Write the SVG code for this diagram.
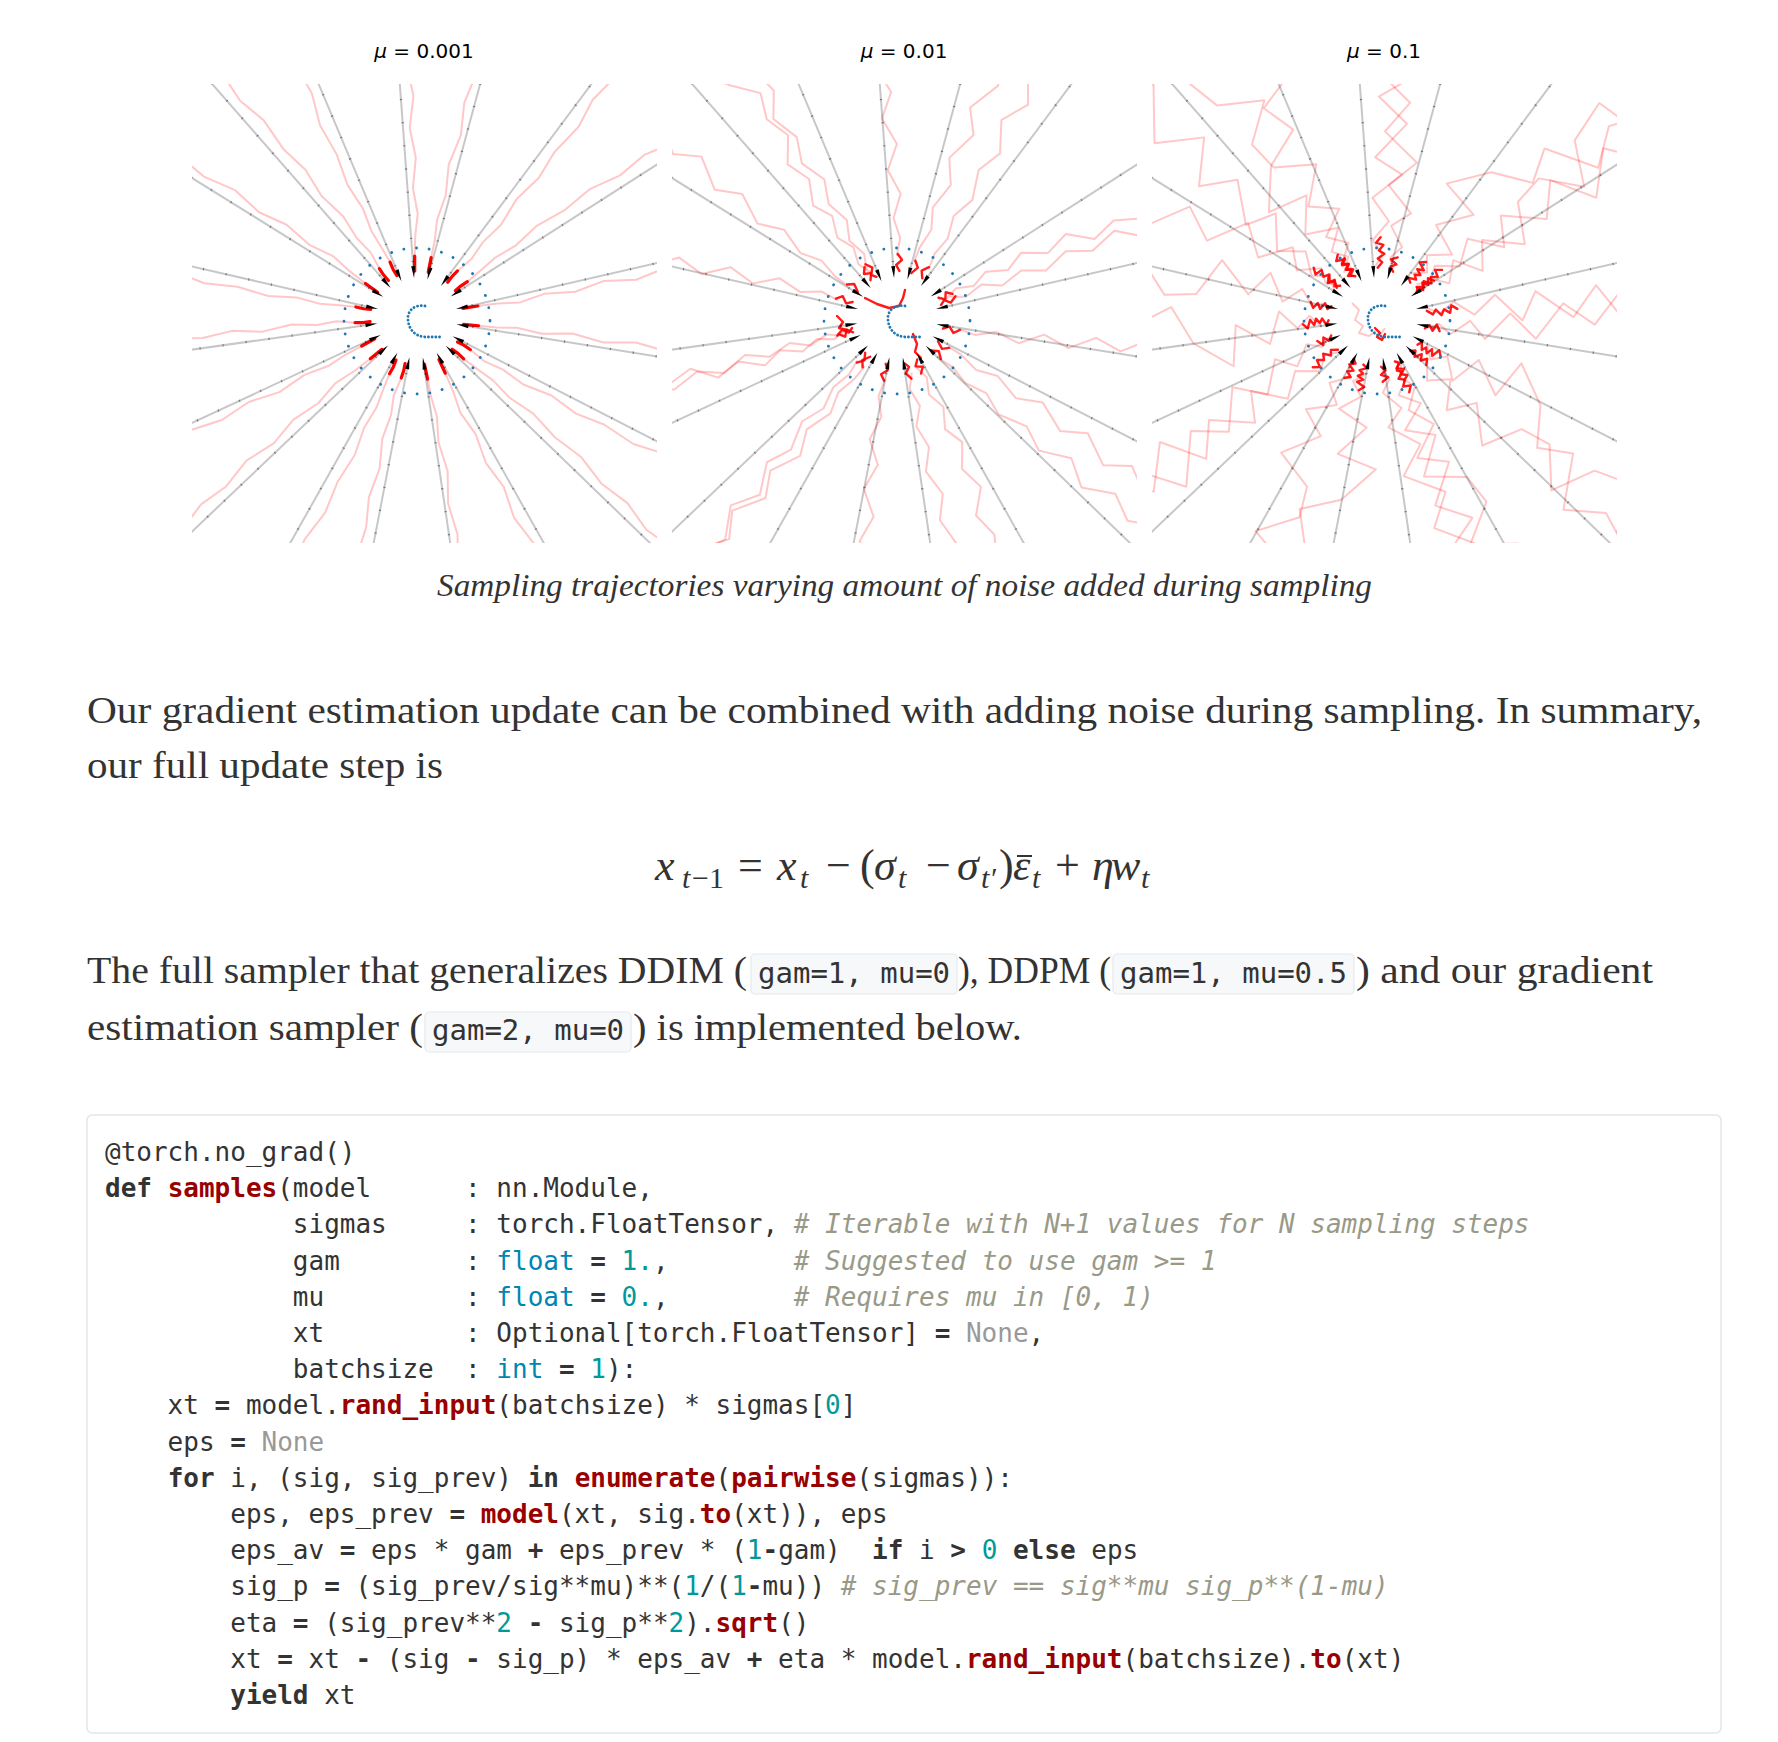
<svg xmlns="http://www.w3.org/2000/svg" width="1778" height="1742" viewBox="0 0 1778 1742">
<style>
.bl{stroke:#000;stroke-opacity:.22;stroke-width:2;fill:none}
.bdt{stroke:#000;stroke-opacity:.4;stroke-width:2.4;stroke-dasharray:1.2 22;fill:none}
.bh{fill:#000}
.rt{stroke:#f00;stroke-opacity:.22;stroke-width:2;fill:none;stroke-linejoin:round}
.rh{stroke:#f00;stroke-width:3.2;fill:none;stroke-linecap:round;stroke-linejoin:round}
.rc{stroke:#f00;stroke-width:2.4;fill:none;stroke-linecap:round;stroke-linejoin:round;stroke-opacity:.9}
.bp{fill:none;stroke:#1f77b4;stroke-width:2.8;stroke-linecap:round}
.ttl{font-family:"DejaVu Sans",sans-serif;font-size:20px;fill:#000}
.body{font-family:"Liberation Serif",serif;font-size:38px;fill:#333}
.cap{font-family:"Liberation Serif",serif;font-style:italic;font-size:31px;fill:#333}
.m{font-family:"Liberation Serif",serif;font-size:44px;fill:#333}
.mi{font-family:"Liberation Serif",serif;font-style:italic;font-size:44px;fill:#333}
.ms{font-family:"Liberation Serif",serif;font-style:italic;font-size:30px;fill:#333}
.msr{font-family:"Liberation Serif",serif;font-size:30px;fill:#333}
.ic{font-family:"DejaVu Sans Mono",monospace;font-size:29px;fill:#333}
.icb{fill:#f6f8fa;stroke:#e3e9ee;stroke-width:1.2}
.code{font-family:"DejaVu Sans Mono",monospace;font-size:26px;fill:#333;white-space:pre}
.k{font-weight:bold}
.f{font-weight:bold;fill:#990000}
.t{fill:#0086b3}
.n{fill:#009999}
.nn{fill:#999}
.c{fill:#998;font-style:italic}
</style>
<defs>
<clipPath id="c1"><rect x="192" y="84" width="465" height="459"/></clipPath>
<clipPath id="c2"><rect x="672" y="84" width="465" height="459"/></clipPath>
<clipPath id="c3"><rect x="1152" y="84" width="465" height="459"/></clipPath>
<g id="ray"><line class="bl" x1="46" y1="0" x2="380" y2="0"/><line class="bdt" x1="56" y1="0" x2="380" y2="0"/><path class="bh" d="M40,0 L52,-2 L52,2 Z"/></g>
<g id="rays">
<use href="#ray" transform="rotate(-131.2)"/><use href="#ray" transform="rotate(-112.8)"/><use href="#ray" transform="rotate(-94.2)"/><use href="#ray" transform="rotate(-74.9)"/><use href="#ray" transform="rotate(-53.3)"/><use href="#ray" transform="rotate(-32.6)"/><use href="#ray" transform="rotate(-12.9)"/><use href="#ray" transform="rotate(9.1)"/><use href="#ray" transform="rotate(27.2)"/><use href="#ray" transform="rotate(44)"/><use href="#ray" transform="rotate(60.6)"/><use href="#ray" transform="rotate(81.6)"/><use href="#ray" transform="rotate(100.9)"/><use href="#ray" transform="rotate(119.4)"/><use href="#ray" transform="rotate(136.5)"/><use href="#ray" transform="rotate(155)"/><use href="#ray" transform="rotate(172)"/><use href="#ray" transform="rotate(-167.1)"/><use href="#ray" transform="rotate(-148.1)"/>
</g>
<g id="ring"><circle class="bp" cx="0" cy="3" r="73" stroke-dasharray="0.1 12.6"/><path class="bp" stroke-dasharray="0.1 3.6" d="M8,-12 C-4,-14 -10,-6 -9,2 C-8,12 -2,18 8,19 L23,19"/></g>
<g id="rA"><path class="rt" d="M380,10 L345,8 L310,13 L280,9 L250,14 L215,10 L185,13 L155,8 L125,11 L100,7 L80,8 L62,4"/><path class="rh" d="M62,4 L54,3 L47,3"/></g>
<g id="rB"><path class="rt" d="M380,-9 L345,-12 L312,-7 L280,-13 L248,-9 L215,-14 L182,-10 L150,-12 L122,-7 L98,-8 L78,-5 L62,-3"/><path class="rh" d="M62,-3 L54,-3 L47,-2"/></g>
<g id="rC"><path class="rt" d="M380,4 L348,10 L318,5 L285,11 L255,7 L222,12 L190,6 L160,10 L130,5 L104,8 L82,4 L62,2"/><path class="rh" d="M62,2 L47,1"/></g>
<g id="rD"><path class="rt" d="M380,-3 L350,-9 L318,-4 L285,-11 L252,-6 L220,-10 L188,-5 L156,-9 L126,-4 L100,-6 L80,-3 L62,-2"/><path class="rh" d="M62,-2 L47,-1"/></g>
<g id="mA"><path class="rt" d="M390,30 L360,12 L335,26 L310,8 L285,22 L260,40 L236,28 L210,34 L188,15 L163,22 L140,8 L120,16 L100,6 L82,12 L66,5 L52,9"/><path class="rc" d="M60,8 L55,3 L51,9 L46,4"/></g>
<g id="mB"><path class="rt" d="M390,-28 L365,-40 L338,-30 L312,-45 L285,-30 L258,-20 L232,-32 L206,-18 L180,-24 L156,-10 L132,-16 L110,-6 L90,-12 L72,-4 L56,-8"/><path class="rc" d="M62,-7 L56,-2 L50,-6 L46,-2"/></g>
<g id="mC"><path class="rt" d="M390,12 L362,-6 L336,8 L308,-10 L280,4 L254,-14 L226,2 L200,-8 L174,6 L148,-4 L124,8 L100,0 L80,6 L62,2"/><path class="rc" d="M64,3 L58,7 L53,1 L47,4"/></g>
<g id="mD"><path class="rt" d="M390,45 L362,60 L332,40 L305,55 L276,30 L250,42 L222,20 L196,30 L168,12 L142,20 L116,8 L94,12 L74,5 L58,3"/><path class="rc" d="M60,4 L54,8 L47,3"/></g>
<g id="mE"><path class="rt" d="M390,-50 L362,-30 L334,-45 L306,-25 L278,-35 L250,-15 L222,-28 L194,-10 L168,-18 L140,-6 L116,-12 L94,-4 L74,-6 L58,-2"/><path class="rc" d="M60,-3 L53,-7 L47,-2"/></g>
<g id="wA"><path class="rt" d="M420,40 L380,90 L340,60 L330,110 L290,80 L250,95 L235,40 L200,50 L185,10 L150,-20 L140,20 L110,-5 L95,25 L80,5 L66,15 L56,2"/><path class="rc" d="M74,8 L70,3 L66,11 L63,5 L60,11 L57,6 L54,10 L51,3 L48,7"/></g>
<g id="wB"><path class="rt" d="M420,-60 L390,-20 L350,-70 L320,-30 L300,-75 L260,-55 L245,-10 L210,-40 L180,-30 L165,10 L130,-15 L115,12 L95,-12 L80,6 L65,-8 L56,-2"/><path class="rc" d="M68,-4 L64,-9 L61,-3 L57,-8 L54,-1 L50,-6 L47,-2"/></g>
<g id="wC"><path class="rt" d="M420,100 L370,120 L350,70 L310,90 L280,40 L240,70 L220,25 L190,50 L160,15 L140,40 L120,8 L95,22 L78,4 L62,12 L52,4"/><path class="rc" d="M80,12 L75,7 L72,14 L67,9 L63,14 L59,7 L55,11 L50,6"/></g>
<g id="wD"><path class="rt" d="M420,-20 L395,-70 L360,-110 L330,-80 L300,-120 L270,-60 L240,-85 L215,-35 L180,-50 L160,-10 L130,-30 L110,0 L92,-15 L75,2 L62,-6 L52,0"/><path class="rc" d="M64,1 L60,-5 L57,2 L53,-3 L49,1"/></g>
</defs>
<rect x="0" y="0" width="1778" height="1742" fill="#fff"/>

<g id="titles">
<text class="ttl" x="424" y="58" text-anchor="middle"><tspan font-style="italic">μ</tspan> = 0.001</text>
<text class="ttl" x="904" y="58" text-anchor="middle"><tspan font-style="italic">μ</tspan> = 0.01</text>
<text class="ttl" x="1384" y="58" text-anchor="middle"><tspan font-style="italic">μ</tspan> = 0.1</text>
</g>

<g id="plot1" clip-path="url(#c1)">
<g transform="translate(417,318)">
<use href="#rA" transform="rotate(-131)"/><use href="#rB" transform="rotate(-113)"/><use href="#rC" transform="rotate(-94)"/><use href="#rD" transform="rotate(-75)"/><use href="#rA" transform="rotate(-53)"/><use href="#rB" transform="rotate(-33)"/><use href="#rC" transform="rotate(-13)"/><use href="#rD" transform="rotate(9)"/><use href="#rA" transform="rotate(27)"/><use href="#rB" transform="rotate(44)"/><use href="#rC" transform="rotate(61)"/><use href="#rD" transform="rotate(82)"/><use href="#rA" transform="rotate(101)"/><use href="#rB" transform="rotate(119)"/><use href="#rC" transform="rotate(137)"/><use href="#rD" transform="rotate(155)"/><use href="#rA" transform="rotate(172)"/><use href="#rB" transform="rotate(-167)"/><use href="#rC" transform="rotate(-148)"/>
<use href="#rays"/>
<use href="#ring"/>
</g>
</g>

<g id="plot2" clip-path="url(#c2)">
<g transform="translate(897,318)">
<use href="#mA" transform="rotate(-130)"/><use href="#mB" transform="rotate(-114)"/><use href="#mC" transform="rotate(-92)"/><use href="#mD" transform="rotate(-76)"/><use href="#mE" transform="rotate(-55)"/><use href="#mA" transform="rotate(-31)"/><use href="#mB" transform="rotate(-14)"/><use href="#mC" transform="rotate(8)"/><use href="#mD" transform="rotate(26)"/><use href="#mE" transform="rotate(46)"/><use href="#mA" transform="rotate(59)"/><use href="#mB" transform="rotate(83)"/><use href="#mC" transform="rotate(99)"/><use href="#mD" transform="rotate(121)"/><use href="#mE" transform="rotate(135)"/><use href="#mA" transform="rotate(157)"/><use href="#mB" transform="rotate(170)"/><use href="#mC" transform="rotate(-165)"/><use href="#mD" transform="rotate(-150)"/>
<path class="rc" d="M-32,-20 L-20,-14 L-8,-10 L2,-12 L6,-20 L8,-28"/>
<path class="rc" d="M16,16 L20,26 L18,34 L24,40"/>
<path class="rc" d="M-60,-2 L-54,4 L-58,10 L-50,12"/>
<use href="#rays"/>
<use href="#ring"/>
</g>
</g>

<g id="plot3" clip-path="url(#c3)">
<g transform="translate(1377,318)">
<use href="#wA" transform="rotate(-128)"/><use href="#wB" transform="rotate(-115)"/><use href="#wC" transform="rotate(-96)"/><use href="#wD" transform="rotate(-72)"/><use href="#wA" transform="rotate(-55)"/><use href="#wB" transform="rotate(-30)"/><use href="#wC" transform="rotate(-15)"/><use href="#wD" transform="rotate(11)"/><use href="#wA" transform="rotate(25)"/><use href="#wB" transform="rotate(47)"/><use href="#wC" transform="rotate(58)"/><use href="#wD" transform="rotate(84)"/><use href="#wA" transform="rotate(98)"/><use href="#wB" transform="rotate(122)"/><use href="#wC" transform="rotate(134)"/><use href="#wD" transform="rotate(158)"/><use href="#wA" transform="rotate(169)"/><use href="#wB" transform="rotate(-163)"/><use href="#wC" transform="rotate(-150)"/><use href="#wD" transform="rotate(-140)"/><use href="#wB" transform="rotate(70)"/><use href="#wC" transform="rotate(-45)"/>
<path class="rt" d="M-25,-15 L-18,-8 L-22,2 L-14,8 L-18,15 L-8,18 L0,12 L4,16 L8,10"/>
<path class="rc" d="M-2,10 L3,15 L0,19 L5,22 L8,16"/>
<use href="#rays"/>
<use href="#ring"/>
</g>
</g>

<g id="caption">
<text class="cap" x="437" y="596" textLength="935" lengthAdjust="spacingAndGlyphs">Sampling trajectories varying amount of noise added during sampling</text>
</g>

<g id="paragraph1">
<text class="body" x="87" y="723" textLength="1615" lengthAdjust="spacingAndGlyphs">Our gradient estimation update can be combined with adding noise during sampling. In summary,</text>
<text class="body" x="87" y="778" textLength="356" lengthAdjust="spacingAndGlyphs">our full update step is</text>
</g>

<g id="equation">
<text class="mi" x="655" y="880">x</text>
<text class="ms" x="682" y="888">t</text>
<text class="msr" x="692" y="888">−1</text>
<text class="m" x="738" y="880">=</text>
<text class="mi" x="777" y="880">x</text>
<text class="ms" x="800" y="888">t</text>
<text class="m" x="826" y="880">−</text>
<text class="m" x="860" y="880">(</text>
<text class="mi" x="874" y="880">σ</text>
<text class="ms" x="898" y="888">t</text>
<text class="m" x="926" y="880">−</text>
<text class="mi" x="957" y="880">σ</text>
<text class="ms" x="981" y="888">t′</text>
<text class="m" x="999" y="880">)</text>
<text class="mi" x="1013" y="880">ε</text>
<line x1="1017" y1="856" x2="1032" y2="856" stroke="#333" stroke-width="2"/>
<text class="ms" x="1032" y="888">t</text>
<text class="m" x="1055" y="880">+</text>
<text class="mi" x="1092" y="880">η</text>
<text class="mi" x="1111" y="880">w</text>
<text class="ms" x="1141" y="888">t</text>
</g>

<g id="paragraph2">
<text class="body" x="87" y="983" textLength="660" lengthAdjust="spacingAndGlyphs">The full sampler that generalizes DDIM (</text>
<rect class="icb" x="751" y="954" width="206" height="40" rx="4"/>
<text class="ic" x="758" y="983" xml:space="preserve">gam=1, mu=0</text>
<text class="body" x="958" y="983" textLength="153" lengthAdjust="spacingAndGlyphs">), DDPM (</text>
<rect class="icb" x="1113" y="954" width="241" height="40" rx="4"/>
<text class="ic" x="1120" y="983" xml:space="preserve">gam=1, mu=0.5</text>
<text class="body" x="1356" y="983" textLength="297" lengthAdjust="spacingAndGlyphs">) and our gradient</text>
<text class="body" x="87" y="1040" textLength="336" lengthAdjust="spacingAndGlyphs">estimation sampler (</text>
<rect class="icb" x="425" y="1012" width="206" height="40" rx="4"/>
<text class="ic" x="432" y="1040" xml:space="preserve">gam=2, mu=0</text>
<text class="body" x="633" y="1040" textLength="389" lengthAdjust="spacingAndGlyphs">) is implemented below.</text>
</g>

<g id="codeblock">
<rect x="87" y="1115" width="1634" height="618" rx="5" fill="#fff" stroke="#e1e7ec" stroke-width="1.5"/>
<text class="code" x="105" y="1161" xml:space="preserve">@torch.no_grad()</text>
<text class="code" x="105" y="1197" xml:space="preserve"><tspan class="k">def</tspan> <tspan class="f">samples</tspan>(model      : nn.Module,</text>
<text class="code" x="105" y="1233" xml:space="preserve">            sigmas     : torch.FloatTensor, <tspan class="c"># Iterable with N+1 values for N sampling steps</tspan></text>
<text class="code" x="105" y="1270" xml:space="preserve">            gam        : <tspan class="t">float</tspan> <tspan class="k">=</tspan> <tspan class="n">1.</tspan>,        <tspan class="c"># Suggested to use gam &gt;= 1</tspan></text>
<text class="code" x="105" y="1306" xml:space="preserve">            mu         : <tspan class="t">float</tspan> <tspan class="k">=</tspan> <tspan class="n">0.</tspan>,        <tspan class="c"># Requires mu in [0, 1)</tspan></text>
<text class="code" x="105" y="1342" xml:space="preserve">            xt         : Optional[torch.FloatTensor] <tspan class="k">=</tspan> <tspan class="nn">None</tspan>,</text>
<text class="code" x="105" y="1378" xml:space="preserve">            batchsize  : <tspan class="t">int</tspan> <tspan class="k">=</tspan> <tspan class="n">1</tspan>):</text>
<text class="code" x="105" y="1414" xml:space="preserve">    xt <tspan class="k">=</tspan> model.<tspan class="f">rand_input</tspan>(batchsize) * sigmas[<tspan class="n">0</tspan>]</text>
<text class="code" x="105" y="1451" xml:space="preserve">    eps <tspan class="k">=</tspan> <tspan class="nn">None</tspan></text>
<text class="code" x="105" y="1487" xml:space="preserve">    <tspan class="k">for</tspan> i, (sig, sig_prev) <tspan class="k">in</tspan> <tspan class="f">enumerate</tspan>(<tspan class="f">pairwise</tspan>(sigmas)):</text>
<text class="code" x="105" y="1523" xml:space="preserve">        eps, eps_prev <tspan class="k">=</tspan> <tspan class="f">model</tspan>(xt, sig.<tspan class="f">to</tspan>(xt)), eps</text>
<text class="code" x="105" y="1559" xml:space="preserve">        eps_av <tspan class="k">=</tspan> eps * gam <tspan class="k">+</tspan> eps_prev * (<tspan class="n">1</tspan><tspan class="k">-</tspan>gam)  <tspan class="k">if</tspan> i <tspan class="k">&gt;</tspan> <tspan class="n">0</tspan> <tspan class="k">else</tspan> eps</text>
<text class="code" x="105" y="1595" xml:space="preserve">        sig_p <tspan class="k">=</tspan> (sig_prev/sig**mu)**(<tspan class="n">1</tspan>/(<tspan class="n">1</tspan><tspan class="k">-</tspan>mu)) <tspan class="c"># sig_prev == sig**mu sig_p**(1-mu)</tspan></text>
<text class="code" x="105" y="1632" xml:space="preserve">        eta <tspan class="k">=</tspan> (sig_prev**<tspan class="n">2</tspan> <tspan class="k">-</tspan> sig_p**<tspan class="n">2</tspan>).<tspan class="f">sqrt</tspan>()</text>
<text class="code" x="105" y="1668" xml:space="preserve">        xt <tspan class="k">=</tspan> xt <tspan class="k">-</tspan> (sig <tspan class="k">-</tspan> sig_p) * eps_av <tspan class="k">+</tspan> eta * model.<tspan class="f">rand_input</tspan>(batchsize).<tspan class="f">to</tspan>(xt)</text>
<text class="code" x="105" y="1704" xml:space="preserve">        <tspan class="k">yield</tspan> xt</text>
</g>
</svg>
